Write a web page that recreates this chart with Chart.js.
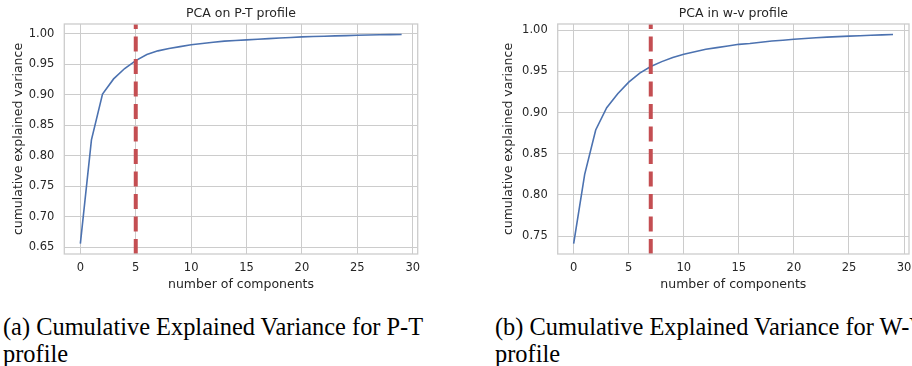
<!DOCTYPE html>
<html>
<head>
<meta charset="utf-8">
<script src="https://cdn.jsdelivr.net/npm/chart.js@4.4.1/dist/chart.umd.min.js"></script>
<style>
  html, body { margin: 0; padding: 0; background: #fff; }
  body { width: 912px; height: 366px; position: relative; overflow: hidden; }
  canvas { position: absolute; top: 0; }
  #ptChart { left: 0; }
  #wvChart { left: 490px; }
  .caption {
    position: absolute; top: 314px;
    font-family: "Liberation Serif", "Times New Roman", serif;
    font-size: 24.4px; line-height: 26.6px; color: #000; white-space: nowrap;
  }
</style>
</head>
<body>
<canvas id="ptChart" width="430" height="300"></canvas>
<canvas id="wvChart" width="430" height="300"></canvas>
<div class="caption" style="left:3px">(a) Cumulative Explained Variance for P-T<br>profile</div>
<div class="caption" style="left:495px">(b) Cumulative Explained Variance for W-V<br>profile</div>
<script>
const components = [0, 1, 2, 3, 4, 5, 6, 7, 8, 9, 10, 11, 12, 13, 14, 15, 16, 17, 18, 19, 20, 21, 22, 23, 24, 25, 26, 27, 28, 29];

const ptVariance = [0.656, 0.826, 0.901, 0.926, 0.943, 0.956, 0.966, 0.972, 0.976, 0.979,
                    0.982, 0.984, 0.986, 0.988, 0.989, 0.990, 0.991, 0.992, 0.993, 0.994,
                    0.995, 0.9955, 0.996, 0.9965, 0.997, 0.9975, 0.998, 0.9983, 0.9986, 0.9989];
const wvVariance = [0.741, 0.825, 0.879, 0.906, 0.923, 0.937, 0.948, 0.956, 0.962, 0.967,
                    0.971, 0.974, 0.977, 0.979, 0.981, 0.983, 0.984, 0.9855, 0.987, 0.988,
                    0.9892, 0.990, 0.991, 0.9917, 0.9924, 0.993, 0.9935, 0.994, 0.9945, 0.995];

const ptCutoff = 5;
const wvCutoff = 7;

const xTicks = [0, 5, 10, 15, 20, 25, 30];
const ptYTicks = [0.65, 0.70, 0.75, 0.80, 0.85, 0.90, 0.95, 1.00];
const wvYTicks = [0.75, 0.80, 0.85, 0.90, 0.95, 1.00];

const TEXT = '#262626';
const GRID = '#cccccc';
const BLUE = '#4C72B0';
const RED = '#C44E52';

// matplotlib style frame on all four sides
const framePlugin = {
    id: 'frame',
    afterDraw(chart) {
        const { ctx, chartArea: a } = chart;
        ctx.save();
        ctx.strokeStyle = GRID;
        ctx.lineWidth = 1.3;
        ctx.strokeRect(a.left, a.top, a.right - a.left, a.bottom - a.top);
        ctx.restore();
    }
};

function makeChart(id, title, values, cutoff, yTicks, axisWidth, padRight) {
    // 5% margins like matplotlib autoscale
    const xMin = components[0], xMax = components[components.length - 1];
    const xm = (xMax - xMin) * 0.05;
    const yLo = Math.min(...values), yHi = Math.max(...values);
    const ym = (yHi - yLo) * 0.05;
    const yMin = yLo - ym, yMax = yHi + ym;

    return new Chart(document.getElementById(id), {
        type: 'line',
        data: {
            datasets: [
                {
                    data: [{ x: cutoff, y: yMin }, { x: cutoff, y: yMax }],
                    borderColor: RED,
                    borderWidth: 4,
                    borderDash: [15, 7.5],
                    pointRadius: 0,
                    order: 0
                },
                {
                    data: components.map((c, i) => ({ x: c, y: values[i] })),
                    borderColor: BLUE,
                    borderWidth: 1.6,
                    pointRadius: 0,
                    tension: 0,
                    order: 1
                }
            ]
        },
        options: {
            responsive: false,
            animation: false,
            devicePixelRatio: 1,
            layout: { padding: { left: 0, right: padRight, top: 0, bottom: 0 } },
            plugins: {
                legend: { display: false },
                tooltip: { enabled: false },
                title: {
                    display: true,
                    text: title,
                    fullSize: false,
                    color: TEXT,
                    font: { family: 'DejaVu Sans', size: 12.5, weight: 'normal' },
                    padding: { top: 6, bottom: 3 }
                }
            },
            scales: {
                x: {
                    type: 'linear',
                    min: xMin - xm,
                    max: xMax + xm,
                    afterBuildTicks: s => { s.ticks = xTicks.map(v => ({ value: v })); },
                    afterFit: s => { s.height = 46; },
                    grid: { color: GRID, lineWidth: 1, drawTicks: false },
                    border: { display: false },
                    ticks: {
                        color: TEXT, padding: 7, maxRotation: 0,
                        font: { family: 'DejaVu Sans', size: 11.5 },
                        callback: v => String(v)
                    },
                    title: {
                        display: true, text: 'number of components', color: TEXT,
                        font: { family: 'DejaVu Sans', size: 12.5 },
                        padding: { top: 0, bottom: 8 }
                    }
                },
                y: {
                    type: 'linear',
                    min: yMin,
                    max: yMax,
                    afterBuildTicks: s => { s.ticks = yTicks.map(v => ({ value: v })); },
                    afterFit: s => { s.width = axisWidth; },
                    grid: { color: GRID, lineWidth: 1, drawTicks: false },
                    border: { display: false },
                    ticks: {
                        color: TEXT, padding: 10,
                        font: { family: 'DejaVu Sans', size: 11.5 },
                        callback: v => Number(v).toFixed(2)
                    },
                    title: {
                        display: true, text: 'cumulative explained variance', color: TEXT,
                        font: { family: 'DejaVu Sans', size: 12.5 },
                        padding: { top: 11, bottom: 0 }
                    }
                }
            }
        },
        plugins: [framePlugin]
    });
}

makeChart('ptChart', 'PCA on P-T profile', ptVariance, ptCutoff, ptYTicks, 64.3, 12.3);
makeChart('wvChart', 'PCA in w-v profile', wvVariance, wvCutoff, wvYTicks, 67.7, 11);
</script>
</body>
</html>
